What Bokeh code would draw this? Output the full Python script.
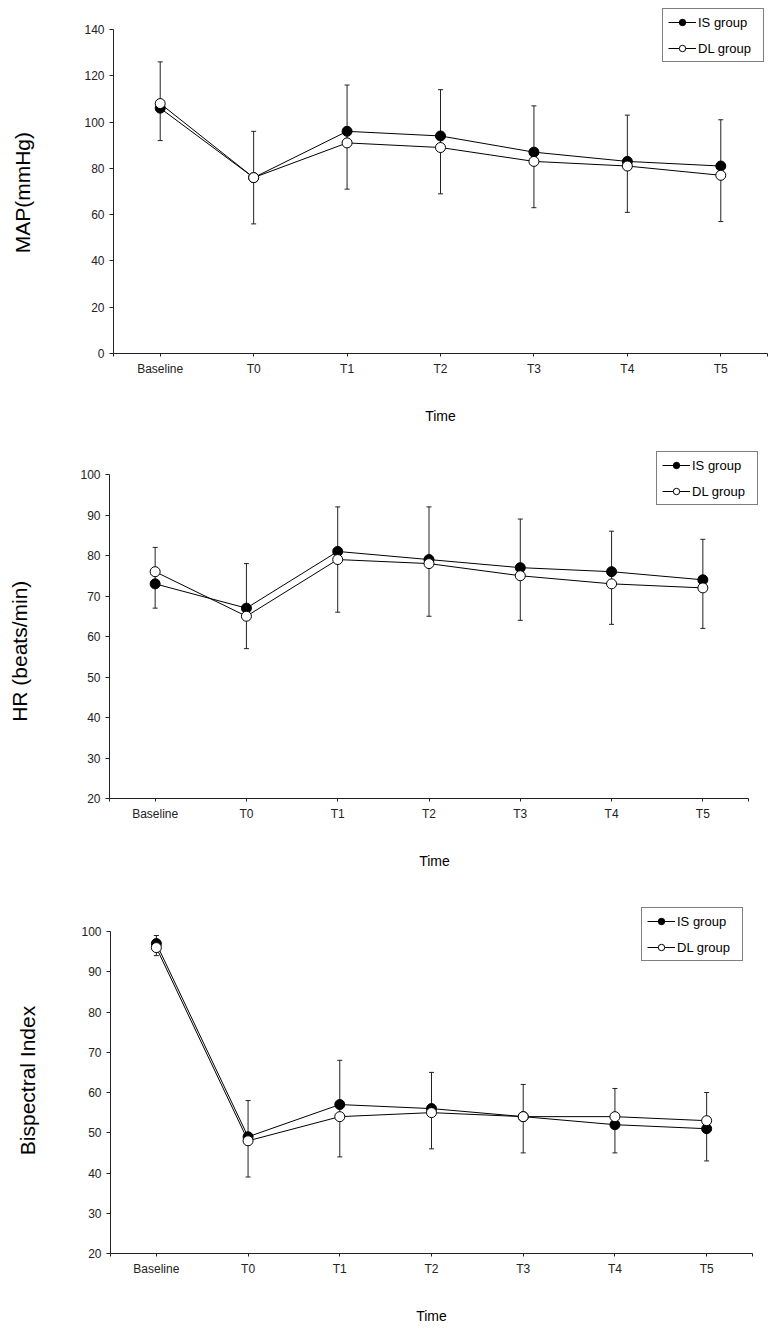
from bokeh.plotting import figure
from bokeh.models import FixedTicker, Legend, LegendItem, ColumnDataSource, Range1d
from bokeh.embed import file_html
from bokeh.resources import INLINE

times = ["Baseline", "T0", "T1", "T2", "T3", "T4", "T5"]

# MAP (mmHg)
map_is = [106, 76, 96, 94, 87, 83, 81]
map_dl = [108, 76, 91, 89, 83, 81, 77]
map_err_hi = [126, 96, 116, 114, 107, 103, 101]
map_err_lo = [92, 56, 71, 69, 63, 61, 57]

# HR (beats/min)
hr_is = [73, 67, 81, 79, 77, 76, 74]
hr_dl = [76, 65, 79, 78, 75, 73, 72]
hr_err_hi = [82, 78, 92, 92, 89, 86, 84]
hr_err_lo = [67, 57, 66, 65, 64, 63, 62]

# Bispectral Index
bis_is = [97, 49, 57, 56, 54, 52, 51]
bis_dl = [96, 48, 54, 55, 54, 54, 53]
bis_err_hi = [99, 58, 68, 65, 62, 61, 60]
bis_err_lo = [94, 39, 44, 46, 45, 45, 43]

FONT = "Liberation Sans"
W = 770
YLAB_PX = 21
NBSP = "\u00a0"


def panel(ylabel, is_vals, dl_vals, hi, lo, ystart, yend, ystep,
          height, top, head_px, bottom, left, axis_w, extra_r,
          legend_xy, ylab_standoff, ylab_pad):
    n = len(times)
    xs = list(range(n))
    src = ColumnDataSource(dict(x=xs, is_v=is_vals, dl_v=dl_vals, hi=hi, lo=lo))
    frame_h = height - top - bottom
    axis_h = frame_h - head_px
    y_max = yend + head_px * (yend - ystart) / axis_h      # headroom for legend
    x_max = n - 0.5 + extra_r * n / axis_w                  # room for legend
    frame_w = axis_w + extra_r
    p = figure(width=W, height=height,
               x_range=Range1d(-0.5, x_max),
               y_range=Range1d(ystart, y_max),
               output_backend="svg", toolbar_location=None,
               min_border_left=left, min_border_right=W - left - frame_w,
               min_border_top=top, min_border_bottom=bottom,
               outline_line_color=None, background_fill_color="white",
               border_fill_color="white")
    p.grid.visible = False

    # error bars
    p.segment(x0="x", y0="lo", x1="x", y1="hi", source=src,
              line_color="#222222", line_width=1)
    p.scatter(x="x", y="hi", source=src, marker="dash", size=5,
              line_color="#222222", line_width=1)
    p.scatter(x="x", y="lo", source=src, marker="dash", size=5,
              line_color="#222222", line_width=1)

    l_is = p.line(x="x", y="is_v", source=src, line_color="black", line_width=1)
    s_is = p.scatter(x="x", y="is_v", source=src, marker="circle", size=10,
                     fill_color="black", line_color="black", line_width=1)
    l_dl = p.line(x="x", y="dl_v", source=src, line_color="black", line_width=1)
    s_dl = p.scatter(x="x", y="dl_v", source=src, marker="circle", size=10,
                     fill_color="white", line_color="black", line_width=1)

    # axes
    xt = [-0.5] + xs + [n - 0.5]
    p.xaxis.ticker = FixedTicker(ticks=xt)
    p.xaxis.bounds = (-0.5, n - 0.5)
    ov = {x: t for x, t in zip(xs, times)}
    ov[-0.5] = ""
    ov[n - 0.5] = ""
    p.xaxis.major_label_overrides = ov
    p.xaxis.axis_label = "Time"
    p.xaxis.axis_label_standoff = 29
    p.xaxis.axis_label_text_font = FONT
    p.xaxis.axis_label_text_font_size = "14px"
    p.xaxis.axis_label_text_font_style = "normal"
    p.xaxis.axis_label_text_color = "black"

    p.yaxis.ticker = FixedTicker(ticks=list(range(ystart, yend + 1, ystep)))
    p.yaxis.bounds = (ystart, yend)
    # trailing no-break spaces shift the label's centre down (as in the reference)
    p.yaxis.axis_label = ylabel + NBSP * ylab_pad
    p.yaxis.axis_label_standoff = ylab_standoff
    p.yaxis.axis_label_text_font = FONT
    p.yaxis.axis_label_text_font_size = f"{YLAB_PX}px"
    p.yaxis.axis_label_text_font_style = "normal"
    p.yaxis.axis_label_text_color = "black"

    for ax in (p.xaxis, p.yaxis):
        ax.axis_line_color = "#222222"
        ax.axis_line_width = 1
        ax.major_tick_line_color = "#222222"
        ax.major_tick_in = 0
        ax.major_tick_out = 4
        ax.minor_tick_line_color = None
        ax.major_label_text_font = FONT
        ax.major_label_text_font_size = "12px"
        ax.major_label_text_color = "#222222"
        ax.major_label_standoff = 5
    p.xaxis.major_tick_out = 3

    leg = Legend(items=[LegendItem(label="IS group", renderers=[l_is, s_is]),
                        LegendItem(label="DL group", renderers=[l_dl, s_dl])],
                 location=legend_xy, orientation="vertical",
                 border_line_color="black", border_line_width=1,
                 background_fill_color="white", background_fill_alpha=1,
                 padding=5, spacing=10, margin=0,
                 glyph_height=16, glyph_width=28, label_standoff=2,
                 label_width=60, label_height=16,
                 label_text_font=FONT, label_text_font_size="13px",
                 label_text_color="black")
    p.add_layout(leg)
    return p


# height, top border, headroom px, bottom border, left border, axis width, extra right px
p1 = panel("MAP(mmHg)", map_is, map_dl, map_err_hi, map_err_lo, 0, 140, 20,
           426, 8, 21, 73, 113, 654, 0, (549, 291), 47, 4)
p2 = panel("HR (beats/min)", hr_is, hr_dl, hr_err_hi, hr_err_lo, 20, 100, 10,
           449, 25, 23, 77, 109, 639, 11, (547, 293), 46, 9)
p3 = panel("Bispectral Index", bis_is, bis_dl, bis_err_hi, bis_err_lo, 20, 100, 10,
           455, 32, 24, 77, 110, 642, 0, (531, 292), 39, 0)

open("out.html", "w").write(file_html([p1, p2, p3], INLINE))
